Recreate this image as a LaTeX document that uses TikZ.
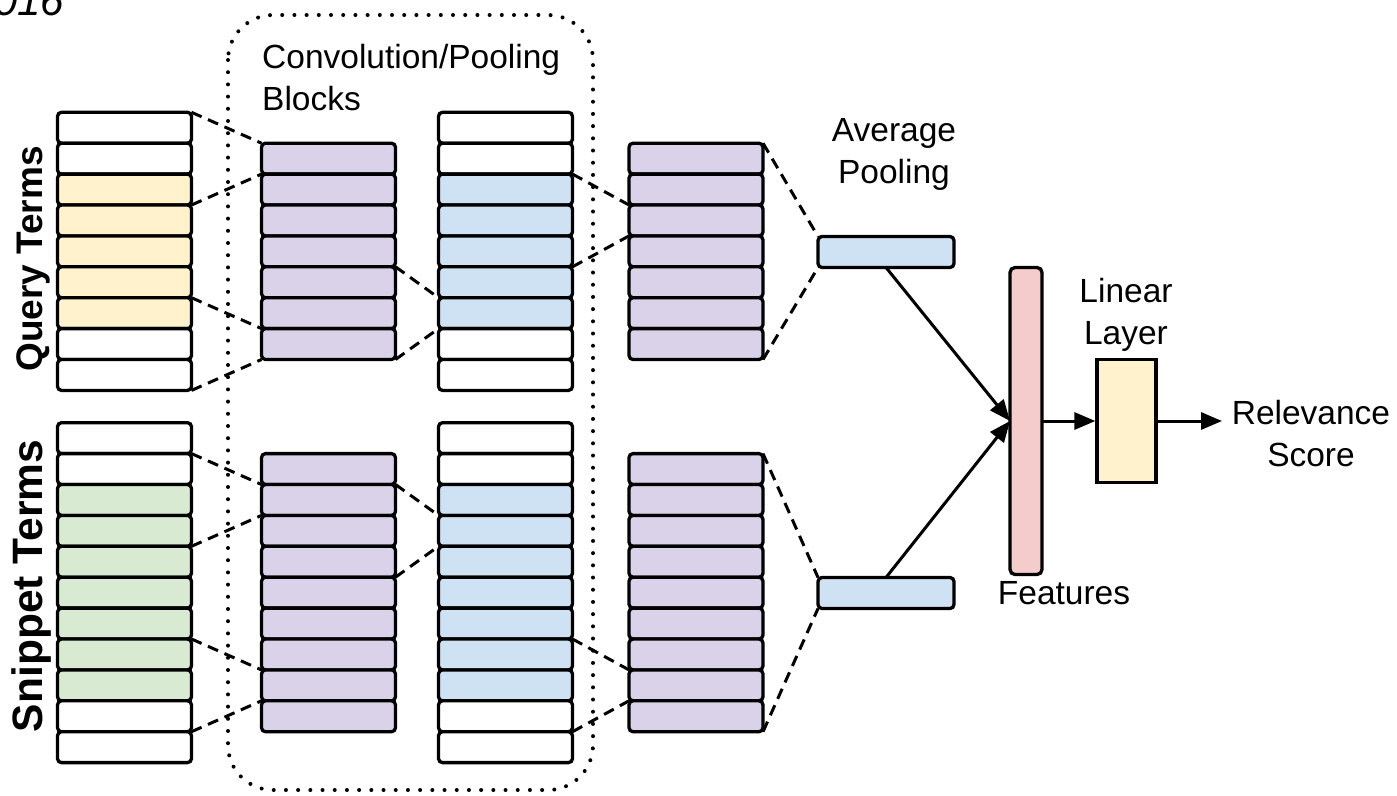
\documentclass[tikz,border=0pt]{standalone}
\usepackage{fontspec}
\setmainfont{Liberation Sans}
\usetikzlibrary{arrows.meta}
\definecolor{cyellow}{HTML}{FFF2CC}
\definecolor{cpurple}{HTML}{D9D2E9}
\definecolor{cblue}{HTML}{CFE2F3}
\definecolor{cgreen}{HTML}{D9EAD3}
\definecolor{cpink}{HTML}{F4CCCC}
\begin{document}
\begin{tikzpicture}[x=1pt,y=-1pt,
  cell/.style={draw=black, line width=3.3pt, rounded corners=4pt, minimum width=134pt, minimum height=30.9pt, inner sep=0pt, outer sep=0pt},
  conn/.style={draw=black, line width=3pt, dash pattern=on 11pt off 7pt},
  arr/.style={draw=black, line width=3pt, -{Triangle[length=21pt,width=17pt]}},
  lbl/.style={font=\fontsize{33.5}{42}\selectfont, inner sep=0pt, align=center},
  side/.style={rotate=90, anchor=base, inner sep=0pt},
  dotbox/.style={draw=black, line width=4pt, dash pattern=on 0pt off 12.2pt, line cap=round, rounded corners=45pt}
]
\useasboundingbox (0,0) rectangle (1397,795);

% dotted group frame
\draw[dotbox] (228,15) rectangle (593,790);

% query columns
\foreach \c [count=\i] in {white,white,cyellow,cyellow,cyellow,cyellow,cyellow,white,white}
  \node[cell, fill=\c] (qA\i) at (124.5,{112.3+30.9*(\i-0.5)}) {};
\foreach \i in {2,...,8}
  \node[cell, fill=cpurple] (qB\i) at (328.5,{112.3+30.9*(\i-0.5)}) {};
\foreach \c [count=\i] in {white,white,cblue,cblue,cblue,cblue,cblue,white,white}
  \node[cell, fill=\c] (qC\i) at (505.5,{112.3+30.9*(\i-0.5)}) {};
\foreach \i in {2,...,8}
  \node[cell, fill=cpurple] (qD\i) at (696,{112.3+30.9*(\i-0.5)}) {};

% snippet columns
\foreach \c [count=\i] in {white,white,cgreen,cgreen,cgreen,cgreen,cgreen,cgreen,cgreen,white,white}
  \node[cell, fill=\c] (sA\i) at (124.5,{422.7+30.9*(\i-0.5)}) {};
\foreach \i in {2,...,10}
  \node[cell, fill=cpurple] (sB\i) at (328.5,{422.7+30.9*(\i-0.5)}) {};
\foreach \c [count=\i] in {white,white,cblue,cblue,cblue,cblue,cblue,cblue,cblue,white,white}
  \node[cell, fill=\c] (sC\i) at (505.5,{422.7+30.9*(\i-0.5)}) {};
\foreach \i in {2,...,10}
  \node[cell, fill=cpurple] (sD\i) at (696,{422.7+30.9*(\i-0.5)}) {};

% average pooling, features, linear layer
\node[cell, fill=cblue, minimum width=136pt, minimum height=31pt] (qavg) at (886,252) {};
\node[cell, fill=cblue, minimum width=136pt, minimum height=31pt] (savg) at (886,593) {};
\node[cell, fill=cpink, minimum width=32pt, minimum height=307pt, rounded corners=5pt] (feat) at (1026,421) {};
\node[draw=black, line width=3.3pt, fill=cyellow, minimum width=59pt, minimum height=123pt, inner sep=0pt] (lin) at (1126.5,421) {};
\coordinate (out) at (1222,421);

% dashed connectors (query)
\draw[conn] (qA1.north east) -- (qB2.north west);
\draw[conn] (qA3.south east) -- (qB2.south west);
\draw[conn] (qA7.north east) -- (qB8.north west);
\draw[conn] (qA9.south east) -- (qB8.south west);
\draw[conn] (qB6.north east) -- (qC7.north west);
\draw[conn] (qB8.south east) -- (qC7.south west);
\draw[conn] (qC3.north east) -- (qD4.north west);
\draw[conn] (qC5.south east) -- (qD4.south west);
\draw[conn] (qD2.north east) -- (qavg.north west);
\draw[conn] (qD8.south east) -- (qavg.south west);
% dashed connectors (snippet)
\draw[conn] (sA2.north east) -- (sB3.north west);
\draw[conn] (sA4.south east) -- (sB3.south west);
\draw[conn] (sA8.north east) -- (sB9.north west);
\draw[conn] (sA10.south east) -- (sB9.south west);
\draw[conn] (sB3.north east) -- (sC4.north west);
\draw[conn] (sB5.south east) -- (sC4.south west);
\draw[conn] (sC8.north east) -- (sD9.north west);
\draw[conn] (sC10.south east) -- (sD9.south west);
\draw[conn] (sD2.north east) -- (savg.north west);
\draw[conn] (sD10.south east) -- (savg.south west);

% arrows
\draw[arr] (qavg.south) -- (feat.west);
\draw[arr] (savg.north) -- (feat.west);
\draw[arr] (feat.east) -- (lin.west);
\draw[arr] (lin.east) -- (out);

% labels
\node[lbl, anchor=north west, align=left] (conv) at (262,44) {Convolution/Pooling\\Blocks};
\node[lbl, anchor=north] (avgl) at (894,118) {Average\\Pooling};
\node[lbl, anchor=north] (linl) at (1126,278) {Linear\\Layer};
\node[lbl, anchor=north] (rel) at (1311,400) {Relevance\\Score};
\node[lbl, anchor=north] (featl) at (1064,581) {Features};
\node[side, font=\bfseries\fontsize{37}{40}\selectfont] (ql) at (42,259) {Query Terms};
\node[side, font=\bfseries\fontsize{42.5}{45}\selectfont] (sl) at (42,586) {Snippet Terms};
\node[anchor=base west, inner sep=0pt, font=\itshape\fontsize{42}{44}\selectfont] (yr) at (-6,15) {016};
\end{tikzpicture}
\end{document}
